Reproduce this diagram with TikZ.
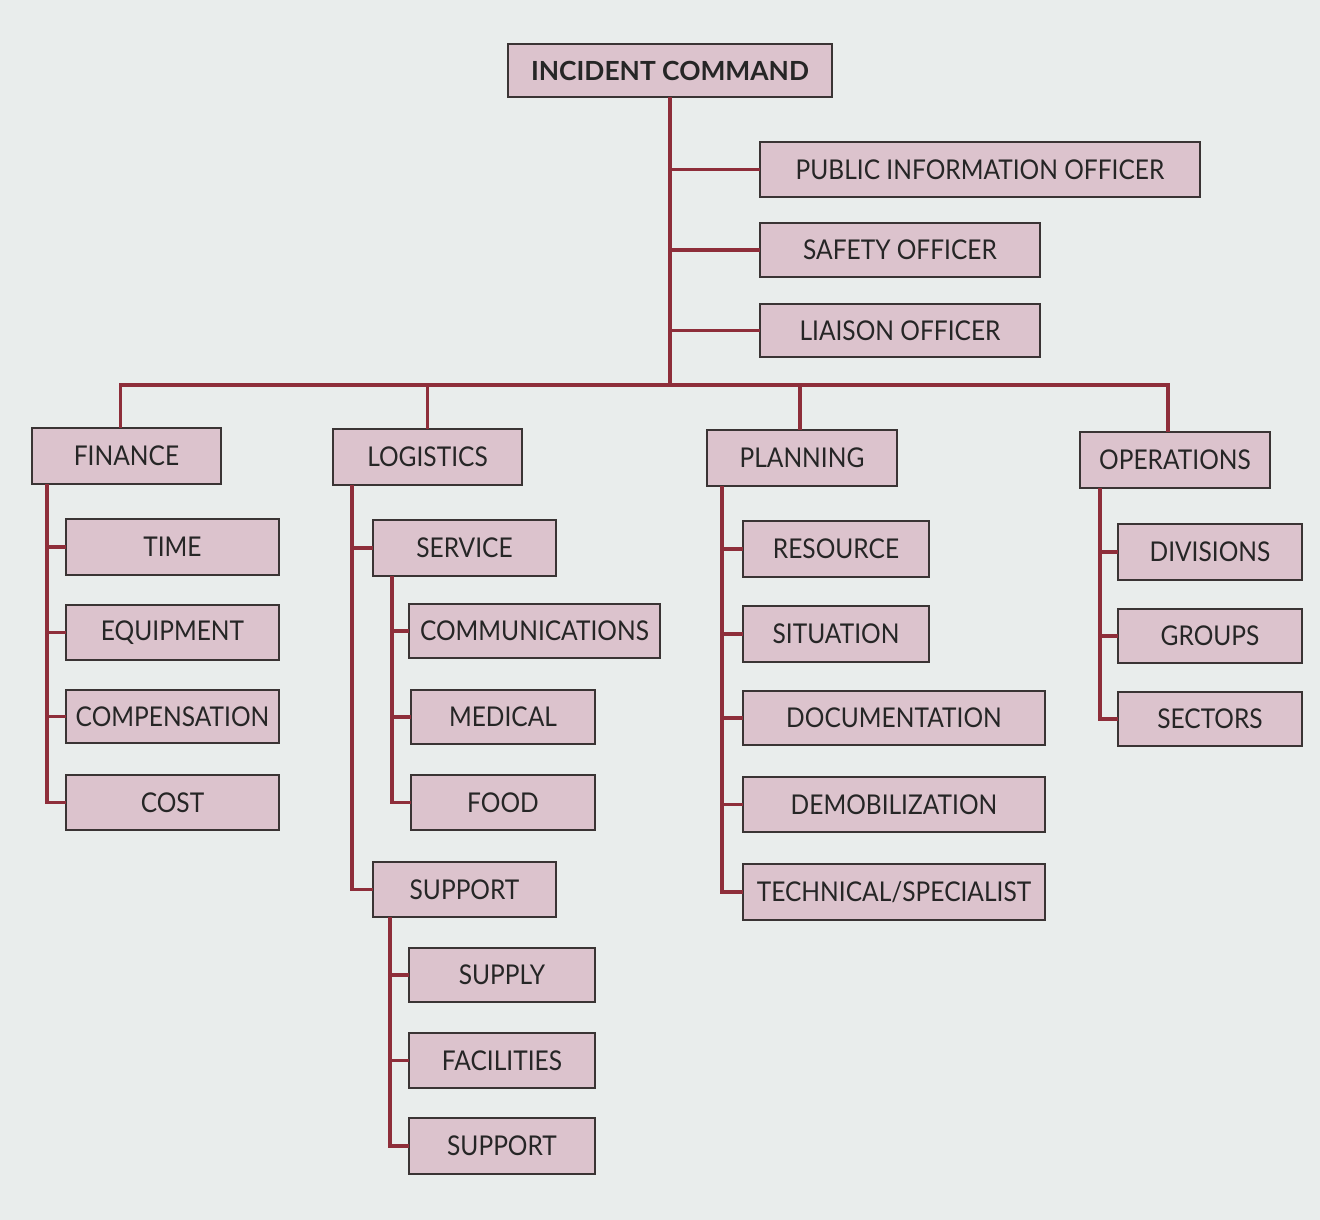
\documentclass[tikz,border=0pt]{standalone}
\usepackage{fontspec}
\setmainfont{Lato}
\newfontfamily\boxfont[FakeStretch=0.9]{Lato}
\definecolor{bg}{HTML}{E9EDEC}
\definecolor{boxfill}{HTML}{DCC3CD}
\definecolor{boxline}{HTML}{3A3434}
\definecolor{connred}{HTML}{8E2E3A}
\tikzset{
  box/.style={draw=boxline, fill=boxfill, line width=1.6pt, inner sep=0pt, outer sep=0pt,
    font=\boxfont\fontsize{15.5}{18}\selectfont, text=black!85},
  titlebox/.style={box, font=\bfseries\fontsize{15}{18}\selectfont},
  conn/.style={draw=connred, line width=1.8pt}
}
\newcommand{\bx}[7][box]{\node[#1, minimum width={(#5-#3)*0.02cm}, minimum height={(#6-#4)*0.02cm}] (#2) at ({(#3+#5)/2},{(#4+#6)/2}) {#7};}
\begin{document}
\begin{tikzpicture}[x=0.02cm,y=-0.02cm]
\fill[bg] (0,0) rectangle (1320,1220);
\useasboundingbox (0,0) rectangle (1320,1220);
% top
\bx[titlebox]{ic}{508}{44}{832}{97}{INCIDENT COMMAND}
\bx{pio}{760}{142}{1200}{197}{PUBLIC INFORMATION OFFICER}
\bx{saf}{760}{223}{1040}{277}{SAFETY OFFICER}
\bx{lia}{760}{304}{1040}{357}{LIAISON OFFICER}
\coordinate (hub) at (670,385);
% sections
\bx{fin}{32}{428}{221}{484}{FINANCE}
\bx{log}{333}{429}{522}{485}{LOGISTICS}
\bx{pla}{707}{430}{897}{486}{PLANNING}
\bx{ops}{1080}{432}{1270}{488}{OPERATIONS}
% finance
\bx{time}{66}{519}{279}{575}{TIME}
\bx{equ}{66}{605}{279}{660}{EQUIPMENT}
\bx{comp}{66}{690}{279}{743}{COMPENSATION}
\bx{cost}{66}{775}{279}{830}{COST}
% logistics
\bx{serv}{373}{520}{556}{576}{SERVICE}
\bx{comm}{409}{604}{660}{658}{COMMUNICATIONS}
\bx{med}{411}{690}{595}{744}{MEDICAL}
\bx{food}{411}{775}{595}{830}{FOOD}
\bx{supp}{373}{862}{556}{917}{SUPPORT}
\bx{suppl}{409}{948}{595}{1002}{SUPPLY}
\bx{fac}{409}{1033}{595}{1088}{FACILITIES}
\bx{supp2}{409}{1118}{595}{1174}{SUPPORT}
% planning
\bx{res}{743}{521}{929}{577}{RESOURCE}
\bx{sit}{743}{606}{929}{662}{SITUATION}
\bx{doc}{743}{691}{1045}{745}{DOCUMENTATION}
\bx{demob}{743}{777}{1045}{832}{DEMOBILIZATION}
\bx{tech}{743}{864}{1045}{920}{TECHNICAL/SPECIALIST}
% operations
\bx{div}{1118}{524}{1302}{580}{DIVISIONS}
\bx{grp}{1118}{609}{1302}{663}{GROUPS}
\bx{sec}{1118}{692}{1302}{746}{SECTORS}
% connectors
\draw[conn] (ic.south) -- (hub);
\foreach \c in {pio,saf,lia} \draw[conn] (\c.west) -- (\c.west -| ic.south);
\coordinate (fintop) at ([xshift=-0.12cm]fin.north);
\coordinate (opstop) at ([xshift=-0.14cm]ops.north);
\draw[conn] (fintop) |- (hub) -| (opstop);
\draw[conn] (log.north) -- (log.north |- hub);
\draw[conn] ([xshift=-0.04cm]pla.north) -- ([xshift=-0.04cm]pla.north |- hub);
% finance
\coordinate (ft) at ([xshift=0.3cm]fin.south west);
\draw[conn] (ft) |- (cost.west);
\foreach \c in {time,equ,comp} \draw[conn] (\c.west) -- (\c.west -| ft);
% logistics
\coordinate (lt) at ([xshift=0.38cm]log.south west);
\draw[conn] (lt) |- (supp.west);
\draw[conn] (serv.west) -- (serv.west -| lt);
\coordinate (st) at ([xshift=0.38cm]serv.south west);
\draw[conn] (st) |- (food.west);
\foreach \c in {comm,med} \draw[conn] (\c.west) -- (\c.west -| st);
\coordinate (spt) at ([xshift=0.34cm]supp.south west);
\draw[conn] (spt) |- (supp2.west);
\foreach \c in {suppl,fac} \draw[conn] (\c.west) -- (\c.west -| spt);
% planning
\coordinate (pt) at ([xshift=0.3cm]pla.south west);
\draw[conn] (pt) |- (tech.west);
\foreach \c in {res,sit,doc,demob} \draw[conn] (\c.west) -- (\c.west -| pt);
% operations
\coordinate (ot) at ([xshift=0.4cm]ops.south west);
\draw[conn] (ot) |- (sec.west);
\foreach \c in {div,grp} \draw[conn] (\c.west) -- (\c.west -| ot);
\end{tikzpicture}
\end{document}
